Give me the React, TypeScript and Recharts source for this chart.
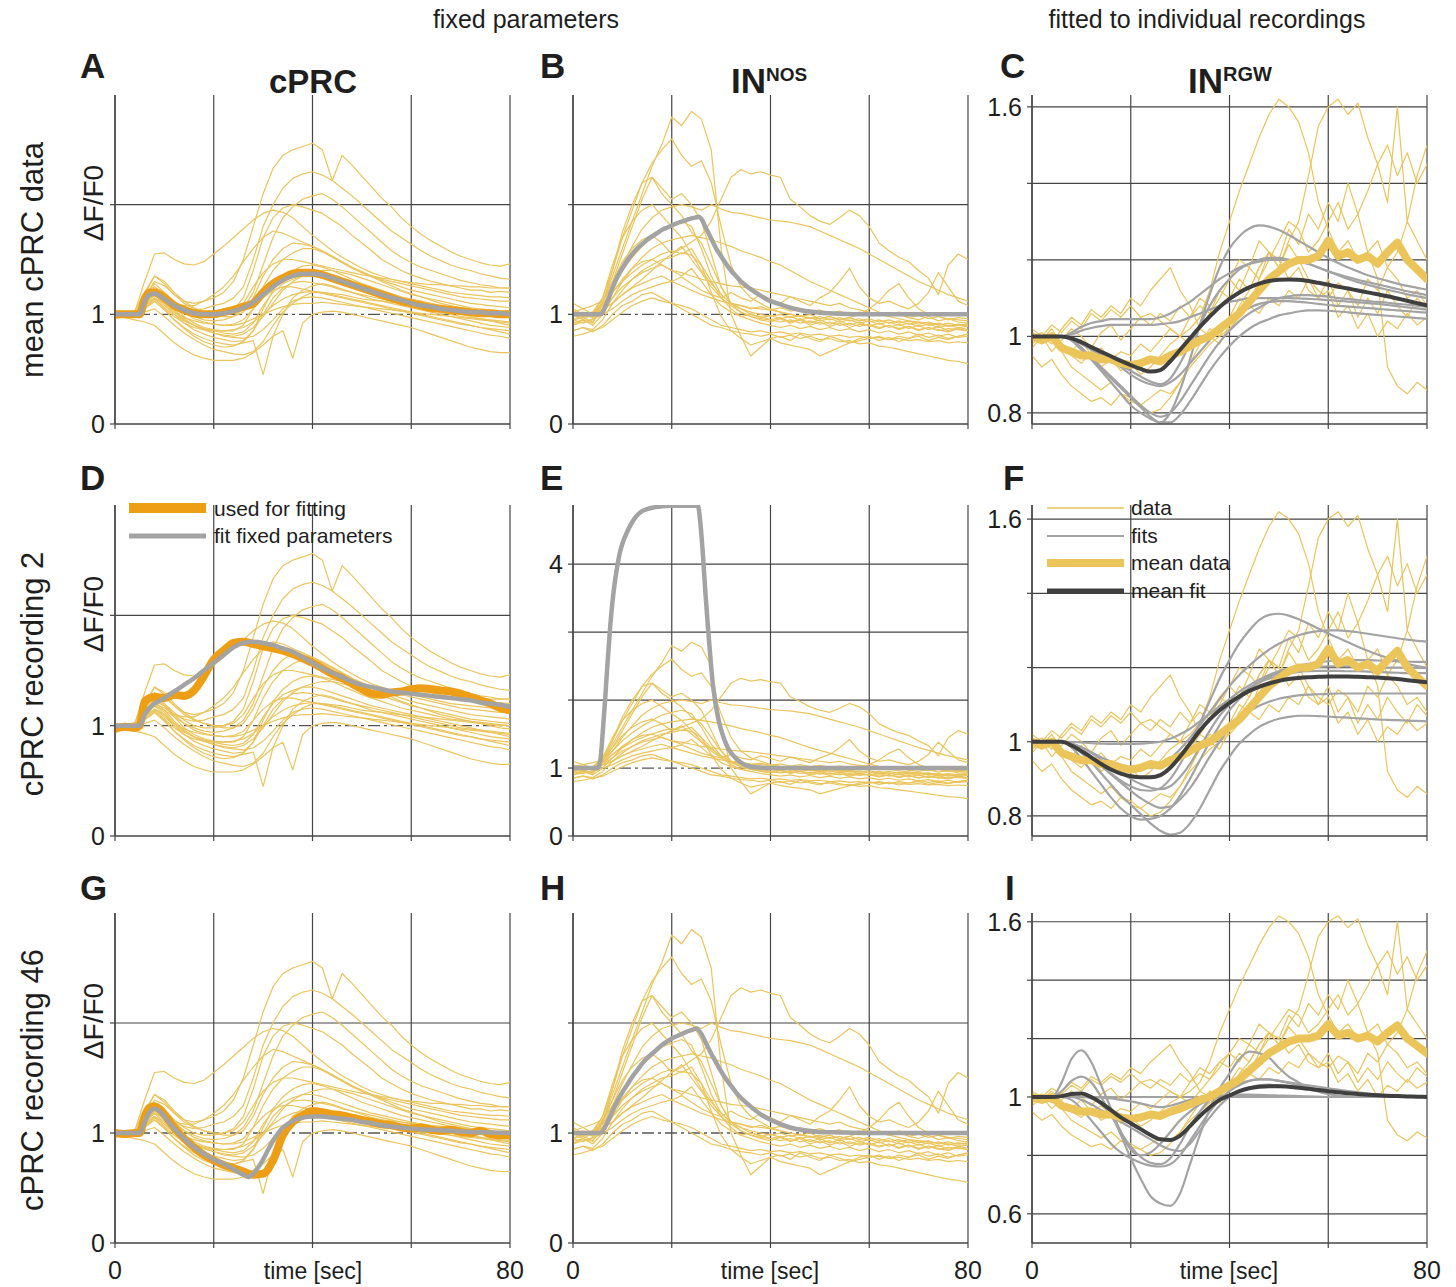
import React from "react";
import { LineChart, Line, XAxis, YAxis, ReferenceLine, CartesianGrid } from "recharts";

const FONT = "'Liberation Sans', Arial, Helvetica, sans-serif";
const GRID = "#454545";
const YELLOW = "#EAC45C";
const MEANY = "#EBC55A";
const ORANGE = "#EE9E14";
const GRAY = "#A3A3A3";
const DARK = "#3f3f3f";

const TIME = [0,2,4,6,8,10,12,14,16,18,20,22,24,26,28,30,32,34,36,38,40,42,44,46,48,50,52,54,56,58,60,62,64,66,68,70,72,74,76,78,80];
const X_TICKS = [0, 20, 40, 60, 80];

// ---------- cPRC recordings (yellow traces, panels A, D, G) ----------
const cprcTraces = [
  [1.00,1.02,0.99,1.15,1.30,1.26,1.18,1.12,1.10,1.12, 1.15,1.20,1.30,1.50,1.80,2.10,2.33,2.45,2.50,2.53, 2.56,2.50,2.22,2.45,2.36,2.26,2.16,2.06,1.98,1.88, 1.80,1.73,1.67,1.62,1.57,1.53,1.50,1.47,1.45,1.44, 1.46],
  [1.01,0.99,1.00,1.12,1.22,1.18,1.10,1.06,1.04,1.05, 1.08,1.10,1.15,1.25,1.50,1.80,2.00,2.15,2.24,2.28, 2.30,2.27,2.22,2.15,2.08,2.00,1.92,1.84,1.76,1.70, 1.64,1.58,1.53,1.49,1.45,1.42,1.40,1.37,1.35,1.33, 1.32],
  [0.98,1.00,1.01,1.10,1.25,1.20,1.12,1.05,1.00,0.98, 0.98,1.00,1.04,1.15,1.40,1.70,1.88,1.97,2.00,1.98, 1.95,1.92,1.86,1.80,1.72,1.65,1.58,1.50,1.45,1.40, 1.36,1.33,1.30,1.28,1.26,1.24,1.22,1.22,1.20,1.21, 1.20],
  [1.02,1.00,0.99,1.08,1.18,1.14,1.08,1.02,0.98,0.95, 0.94,0.95,0.98,1.05,1.20,1.45,1.70,1.88,1.98,2.05, 2.08,2.10,2.05,1.98,1.90,1.82,1.74,1.66,1.58,1.52, 1.47,1.43,1.40,1.37,1.34,1.31,1.29,1.27,1.26,1.24, 1.24],
  [1.00,1.01,1.00,1.10,1.20,1.16,1.10,1.08,1.08,1.12, 1.18,1.25,1.35,1.48,1.60,1.70,1.76,1.74,1.70,1.66, 1.62,1.57,1.52,1.47,1.42,1.38,1.35,1.32,1.30,1.28, 1.26,1.24,1.22,1.20,1.18,1.16,1.15,1.14,1.13,1.12, 1.12],
  [0.99,1.00,1.02,1.30,1.55,1.56,1.50,1.46,1.45,1.48, 1.55,1.62,1.70,1.78,1.86,1.92,1.95,1.93,1.88,1.80, 1.72,1.65,1.58,1.52,1.47,1.42,1.38,1.35,1.32,1.30, 1.28,1.26,1.24,1.22,1.20,1.19,1.18,1.17,1.16,1.16, 1.15],
  [1.00,0.98,1.00,1.12,1.25,1.18,1.08,0.98,0.92,0.88, 0.86,0.85,0.85,0.90,1.05,1.25,1.40,1.50,1.56,1.60, 1.60,1.57,1.53,1.48,1.43,1.38,1.34,1.30,1.26,1.22, 1.19,1.16,1.13,1.10,1.08,1.06,1.04,1.02,1.00,0.98, 0.97],
  [1.01,1.00,0.98,1.10,1.18,1.10,1.00,0.92,0.86,0.82, 0.79,0.77,0.75,0.76,0.85,1.05,1.22,1.33,1.40,1.44, 1.45,1.43,1.40,1.36,1.32,1.28,1.25,1.22,1.19,1.16, 1.14,1.12,1.10,1.08,1.06,1.05,1.04,1.03,1.02,1.01, 1.00],
  [0.97,0.99,1.00,1.08,1.15,1.08,1.00,0.94,0.90,0.87, 0.85,0.83,0.82,0.84,0.92,1.08,1.20,1.28,1.32,1.35, 1.35,1.33,1.30,1.27,1.24,1.21,1.18,1.16,1.14,1.12, 1.10,1.08,1.06,1.04,1.02,1.00,0.98,0.96,0.94,0.92, 0.90],
  [1.00,1.01,0.99,1.05,1.12,1.05,0.95,0.88,0.82,0.78, 0.75,0.73,0.72,0.74,0.76,0.45,0.80,1.00,1.15,1.22, 1.26,1.28,1.26,1.23,1.20,1.17,1.14,1.12,1.10,1.08, 1.06,1.04,1.02,1.00,0.98,0.96,0.94,0.92,0.90,0.89, 0.88],
  [0.96,0.98,1.00,1.02,1.05,0.98,0.90,0.83,0.77,0.72, 0.68,0.66,0.64,0.63,0.66,0.75,0.90,1.02,1.10,1.16, 1.20,1.20,1.18,1.16,1.14,1.12,1.10,1.08,1.06,1.04, 1.02,1.00,0.98,0.96,0.94,0.92,0.90,0.88,0.86,0.84, 0.82],
  [1.00,0.97,0.95,0.93,0.90,0.82,0.74,0.68,0.63,0.60, 0.58,0.58,0.58,0.60,0.65,0.72,0.80,0.85,0.60,0.92, 1.00,1.02,1.03,1.02,1.00,0.98,0.96,0.94,0.92,0.90, 0.88,0.85,0.82,0.79,0.76,0.73,0.70,0.68,0.66,0.65, 0.65],
  [1.02,1.00,1.01,1.10,1.20,1.12,1.02,0.95,0.90,0.86, 0.83,0.80,0.79,0.78,0.80,0.86,0.95,1.05,1.12,1.15, 1.16,1.15,1.13,1.11,1.09,1.07,1.05,1.03,1.01,0.99, 0.97,0.95,0.93,0.91,0.89,0.87,0.85,0.83,0.81,0.80, 0.78],
  [0.99,1.00,1.00,1.08,1.15,1.10,1.02,0.97,0.94,0.92, 0.91,0.90,0.90,0.92,0.96,1.00,1.04,1.07,1.09,1.10, 1.10,1.11,1.10,1.09,1.08,1.07,1.06,1.05,1.04,1.03, 1.02,1.01,1.00,0.99,0.98,0.97,0.96,0.95,0.94,0.93, 0.92],
  [1.00,1.02,1.00,1.18,1.35,1.28,1.18,1.10,1.05,1.02, 1.00,1.00,1.02,1.10,1.25,1.38,1.46,1.50,1.50,1.48, 1.46,1.44,1.42,1.40,1.38,1.36,1.35,1.33,1.32,1.30, 1.29,1.28,1.27,1.27,1.26,1.26,1.25,1.25,1.24,1.24, 1.24],
  [1.01,0.99,0.98,1.06,1.12,1.04,0.95,0.87,0.80,0.75, 0.72,0.70,0.71,0.75,0.85,1.00,1.15,1.24,1.29,1.30, 1.29,1.27,1.25,1.22,1.20,1.18,1.16,1.14,1.12,1.10, 1.08,1.06,1.04,1.02,1.00,0.98,0.97,0.96,0.95,0.94, 0.93],
  [1.00,1.00,1.03,1.20,1.35,1.30,1.20,1.12,1.06,1.02, 1.00,0.98,0.98,1.02,1.15,1.35,1.50,1.60,1.65,1.64, 1.62,1.58,1.53,1.48,1.43,1.39,1.35,1.31,1.28,1.25, 1.22,1.20,1.18,1.16,1.14,1.12,1.10,1.09,1.08,1.07, 1.06],
  [0.98,1.00,0.99,1.06,1.14,1.06,0.98,0.92,0.88,0.86, 0.85,0.85,0.86,0.88,0.93,1.00,1.08,1.14,1.18,1.20, 1.21,1.20,1.19,1.18,1.16,1.14,1.13,1.12,1.11,1.10, 1.09,1.08,1.07,1.06,1.05,1.04,1.03,1.02,1.01,1.00, 1.00],
  [1.00,1.01,1.00,1.12,1.22,1.14,1.04,0.96,0.90,0.86, 0.83,0.81,0.80,0.82,0.88,0.98,1.10,1.22,1.30,1.35, 1.38,1.40,1.40,1.38,1.36,1.33,1.30,1.27,1.24,1.21, 1.18,1.16,1.14,1.12,1.10,1.08,1.06,1.05,1.04,1.03, 1.02],
  [1.02,0.99,1.01,1.14,1.28,1.20,1.10,1.02,0.96,0.93, 0.91,0.90,0.91,0.95,1.05,1.15,1.22,1.25,1.25,1.23, 1.21,1.19,1.17,1.15,1.13,1.11,1.09,1.07,1.05,1.03, 1.01,0.99,0.97,0.95,0.93,0.91,0.90,0.88,0.87,0.86, 0.85],
];

// orange "used for fitting" and gray fits (time, value)
const cprcMeanData = [[0,1.0],[2,1.0],[4,1.0],[5,1.0],[6,1.14],[7,1.2],[8,1.2],[9,1.18],[10,1.15],[12,1.08],[14,1.04],[16,1.01],[18,1.0],[20,1.0],[22,1.02],[24,1.04],[26,1.07],[28,1.1],[30,1.2],[32,1.28],[34,1.33],[36,1.37],[38,1.38],[40,1.38],[42,1.36],[44,1.33],[46,1.3],[48,1.27],[50,1.24],[52,1.21],[54,1.18],[56,1.15],[58,1.12],[60,1.1],[62,1.08],[64,1.06],[66,1.05],[68,1.04],[70,1.03],[72,1.02],[74,1.01],[76,1.01],[78,1.0],[80,1.0]];
const cprcFitA = [[0,1],[5,1],[6,1.12],[7,1.18],[8,1.19],[9,1.17],[10,1.14],[12,1.08],[14,1.04],[16,1.01],[18,1.0],[20,1.0],[22,1.01],[24,1.03],[26,1.06],[28,1.11],[30,1.18],[32,1.25],[34,1.31],[36,1.35],[38,1.37],[40,1.37],[42,1.36],[44,1.33],[46,1.3],[48,1.27],[50,1.24],[52,1.21],[54,1.18],[56,1.15],[58,1.13],[60,1.1],[62,1.08],[64,1.07],[66,1.05],[68,1.04],[70,1.03],[72,1.02],[74,1.02],[76,1.01],[78,1.01],[80,1.0]];
const cprcRec2 = [[0,0.97],[2,0.99],[4,0.98],[5,1.0],[6,1.22],[8,1.26],[10,1.25],[12,1.28],[14,1.27],[16,1.32],[18,1.45],[20,1.6],[22,1.68],[24,1.75],[26,1.76],[28,1.74],[30,1.72],[32,1.7],[34,1.68],[36,1.65],[38,1.61],[40,1.57],[42,1.52],[44,1.47],[46,1.43],[48,1.38],[50,1.33],[52,1.29],[54,1.28],[56,1.3],[58,1.31],[60,1.33],[62,1.34],[64,1.33],[66,1.32],[68,1.31],[70,1.29],[72,1.26],[74,1.23],[76,1.2],[78,1.16],[80,1.14]];
const cprcFitD = [[0,1],[5,1],[6,1.1],[7,1.16],[8,1.2],[10,1.25],[12,1.31],[14,1.37],[16,1.43],[18,1.5],[20,1.57],[22,1.64],[24,1.71],[26,1.75],[28,1.76],[30,1.75],[32,1.73],[34,1.7],[36,1.67],[38,1.62],[40,1.57],[42,1.52],[44,1.48],[46,1.44],[48,1.4],[50,1.37],[52,1.35],[54,1.33],[56,1.31],[58,1.3],[60,1.29],[62,1.28],[64,1.27],[66,1.26],[68,1.25],[70,1.24],[72,1.23],[74,1.21],[76,1.2],[78,1.19],[80,1.17]];
const cprcRec46 = [[0,1.0],[2,0.99],[4,1.0],[5,1.0],[6,1.15],[7,1.23],[8,1.24],[9,1.22],[10,1.17],[12,1.05],[14,0.95],[16,0.87],[18,0.8],[20,0.75],[22,0.71],[24,0.68],[26,0.65],[28,0.62],[30,0.63],[32,0.75],[34,0.98],[36,1.1],[38,1.16],[40,1.2],[42,1.19],[44,1.17],[46,1.16],[48,1.14],[50,1.12],[52,1.1],[54,1.08],[56,1.07],[58,1.05],[60,1.04],[62,1.05],[64,1.03],[66,1.02],[68,1.03],[70,1.01],[72,1.0],[74,1.02],[76,0.99],[78,0.98],[80,0.98]];
const cprcFitG = [[0,1],[5,1],[6,1.1],[7,1.19],[8,1.22],[9,1.2],[10,1.15],[12,1.04],[14,0.95],[16,0.87],[18,0.81],[20,0.76],[22,0.72],[24,0.67],[26,0.62],[27,0.6],[28,0.63],[30,0.76],[32,0.93],[34,1.05],[36,1.11],[38,1.14],[40,1.15],[42,1.15],[44,1.14],[46,1.13],[48,1.12],[50,1.1],[52,1.09],[54,1.07],[56,1.06],[58,1.05],[60,1.04],[64,1.03],[68,1.02],[72,1.01],[76,1.005],[80,1.0]];

// ---------- IN-NOS recordings (panels B, E, H) ----------
const nosTraces = [
  [0.95,1.00,0.98,1.10,1.35,1.60,1.85,2.10,2.35,2.55, 2.80,2.72,2.85,2.78,2.50,1.60,1.00,0.80,0.62,0.70, 0.78,0.80,0.76,0.82,0.78,0.75,0.80,0.77,0.74,0.78, 0.80,0.76,0.79,0.75,0.78,0.80,0.76,0.79,0.77,0.80, 0.82],
  [1.02,0.98,1.00,1.15,1.40,1.70,1.95,2.20,2.38,2.50, 2.60,2.45,2.35,2.40,2.20,1.80,1.45,1.25,1.15,1.10, 1.05,1.02,1.00,0.98,1.00,0.96,0.98,0.95,0.97,0.94, 0.96,0.93,0.95,0.92,0.94,0.91,0.93,0.90,0.92,0.90, 0.91],
  [0.90,0.95,0.92,1.10,1.40,1.75,2.00,2.20,2.25,2.10, 2.00,1.90,1.75,1.65,1.45,1.25,1.10,1.05,1.00,0.98, 0.95,0.97,0.93,0.96,0.92,0.95,0.91,0.94,0.90,0.93, 0.89,0.92,0.88,0.91,0.87,0.90,0.86,0.89,0.85,0.88, 0.86],
  [1.00,0.98,1.02,1.05,1.10,1.18,1.25,1.32,1.40,1.48, 1.55,1.60,1.66,1.72,1.85,2.05,2.25,2.32,2.28,2.30, 2.27,2.25,2.05,1.98,1.90,1.85,1.82,1.88,1.95,1.90, 1.80,1.65,1.58,1.52,1.48,1.40,1.33,1.18,1.45,1.55, 1.50],
  [1.05,1.00,0.97,1.08,1.25,1.45,1.62,1.78,1.88,1.95, 1.98,2.00,1.98,1.95,2.00,1.96,1.93,1.92,1.90,1.88, 1.86,1.85,1.84,1.82,1.80,1.76,1.72,1.68,1.64,1.60, 1.55,1.50,1.45,1.40,1.35,1.30,1.26,1.22,1.18,1.15, 1.12],
  [0.92,0.95,0.90,1.00,1.15,1.30,1.42,1.52,1.60,1.65, 1.68,1.70,1.72,1.70,1.68,1.65,1.62,1.58,1.55,1.52, 1.48,1.45,1.40,1.35,1.30,1.26,1.22,1.18,1.14,1.10, 1.06,1.02,0.98,0.96,0.94,0.93,0.92,0.91,0.90,0.90, 0.90],
  [1.00,1.02,0.99,1.12,1.30,1.48,1.60,1.68,1.72,1.65, 1.55,1.62,1.50,1.38,1.25,1.15,1.08,1.02,0.98,0.95, 0.93,0.96,0.92,0.95,0.90,0.93,0.89,0.92,0.88,0.91, 0.90,0.87,0.90,0.86,0.89,0.85,0.88,0.86,0.84,0.87, 0.85],
  [0.85,0.88,0.86,0.95,1.10,1.22,1.32,1.40,1.45,1.50, 1.52,1.56,1.54,1.45,1.30,1.15,1.05,0.98,0.95,0.92, 0.90,0.88,0.90,0.87,0.89,0.86,0.88,0.85,0.87,0.84, 0.86,0.83,0.85,0.82,0.84,0.81,0.83,0.80,0.82,0.79, 0.80],
  [0.95,0.92,0.96,1.05,1.15,1.25,1.32,1.38,1.42,1.45, 1.40,1.35,1.42,1.30,1.18,1.08,1.02,0.98,1.00,0.97, 0.99,0.96,0.98,0.95,0.97,0.94,0.96,0.93,0.95,0.92, 0.94,0.91,0.93,0.90,0.92,0.89,0.91,0.88,0.90,0.88, 0.89],
  [1.00,0.97,1.00,1.04,1.10,1.18,1.24,1.28,1.32,1.35, 1.30,1.34,1.28,1.22,1.18,1.15,1.20,1.15,1.12,1.18, 1.14,1.10,1.16,1.12,1.08,1.15,1.20,1.30,1.42,1.25, 1.15,1.10,1.12,1.08,1.05,1.10,1.20,1.38,1.25,1.12, 1.08],
  [0.85,0.88,0.84,0.90,1.00,1.08,1.12,1.18,1.20,1.15, 1.10,1.05,1.00,0.95,0.90,0.88,0.85,0.83,0.82,0.80, 0.82,0.79,0.81,0.78,0.80,0.77,0.78,0.75,0.76,0.73, 0.74,0.71,0.70,0.68,0.66,0.64,0.62,0.60,0.58,0.57, 0.55],
  [1.02,1.05,1.00,1.08,1.20,1.30,1.38,1.45,1.50,1.55, 1.58,1.55,1.60,1.45,1.20,0.98,0.85,0.78,0.72,0.75, 0.78,0.74,0.72,0.70,0.68,0.62,0.66,0.70,0.74,0.76, 0.78,0.80,0.77,0.80,0.78,0.82,0.79,0.81,0.78,0.80, 0.82],
  [0.98,1.00,1.02,1.15,1.45,1.70,1.85,1.95,2.00,1.90, 1.80,1.70,1.55,1.40,1.28,1.18,1.10,1.05,1.02,1.00, 0.98,1.00,0.97,0.99,0.96,0.98,0.95,0.97,0.94,0.96, 0.93,0.95,0.92,0.94,0.91,0.93,0.90,0.92,0.89,0.91, 0.90],
  [0.90,0.93,0.95,1.00,1.05,1.12,1.18,1.22,1.25,1.28, 1.30,1.26,1.22,1.18,1.15,1.12,1.10,1.08,1.06,1.05, 1.04,1.02,1.00,0.98,0.97,0.96,0.98,0.95,0.97,1.00, 1.05,1.12,1.22,1.28,1.15,1.05,1.00,0.98,0.96,0.95, 0.94],
  [1.10,1.05,1.08,1.12,1.25,1.40,1.52,1.62,1.70,1.78, 1.82,1.85,1.80,1.60,1.35,1.18,1.10,1.08,1.05,1.07, 1.04,1.06,1.03,1.05,1.02,1.04,1.01,1.03,1.00,1.02, 0.99,1.01,0.98,1.00,0.97,0.99,0.96,0.98,0.95,0.97, 0.96],
  [0.80,0.82,0.85,0.88,0.95,1.02,1.08,1.12,1.15,1.12, 1.10,1.08,1.05,1.00,0.95,0.90,0.88,0.86,0.84,0.85, 0.83,0.84,0.82,0.83,0.81,0.82,0.80,0.81,0.79,0.80, 0.78,0.79,0.77,0.78,0.76,0.77,0.75,0.76,0.74,0.75, 0.74],
  [1.00,0.95,1.00,1.10,1.30,1.55,1.80,2.05,2.25,2.15, 2.05,2.10,2.00,1.85,1.55,1.25,1.10,1.02,0.98,0.96, 0.95,0.93,0.95,0.92,0.94,0.91,0.93,0.90,0.92,0.89, 0.91,0.88,0.90,0.87,0.89,0.86,0.88,0.85,0.87,0.86, 0.85],
  [0.95,0.97,0.93,1.05,1.20,1.32,1.42,1.48,1.50,1.45, 1.40,1.38,1.35,1.32,1.30,1.28,1.26,1.25,1.24,1.22, 1.20,1.18,1.16,1.14,1.12,1.10,1.08,1.10,1.06,1.04, 1.02,1.00,0.98,1.02,0.97,0.95,0.98,0.94,0.96,0.93, 0.92],
];
const nosFitB = [[0,1],[5.5,1],[7,1.12],[8,1.24],[9,1.34],[10,1.42],[11,1.49],[12,1.55],[13,1.6],[14,1.64],[15,1.68],[16,1.71],[17,1.74],[18,1.77],[19,1.79],[20,1.81],[21,1.83],[22,1.845],[23,1.86],[24,1.875],[25,1.885],[25.5,1.89],[26,1.87],[27,1.78],[28,1.69],[29,1.6],[30,1.53],[31,1.46],[32,1.4],[33,1.35],[34,1.3],[36,1.23],[38,1.17],[40,1.12],[42,1.09],[44,1.06],[46,1.04],[48,1.025],[50,1.015],[54,1.005],[60,1],[80,1]];
const nosFitE = [[0,1],[5,1],[5.5,1.1],[6,1.5],[6.5,2.0],[7,2.55],[7.5,3.05],[8,3.45],[8.5,3.75],[9,3.98],[9.5,4.17],[10,4.3],[11,4.48],[12,4.62],[13,4.72],[14,4.78],[15,4.81],[16,4.83],[18,4.85],[20,4.86],[25.3,4.86],[25.8,4.6],[26.3,4.15],[26.8,3.6],[27.3,3.1],[27.8,2.65],[28.3,2.25],[28.8,1.98],[29.5,1.7],[30.5,1.45],[31.5,1.28],[32.5,1.18],[34,1.08],[35.5,1.03],[37,1.01],[40,1.0],[80,1.0]];
const nosFitH = [[0,1],[5.5,1],[7,1.1],[8,1.2],[9,1.29],[10,1.37],[11,1.44],[12,1.51],[13,1.57],[14,1.63],[15,1.68],[16,1.72],[17,1.76],[18,1.8],[19,1.83],[20,1.86],[21,1.88],[22,1.9],[23,1.92],[24,1.935],[25,1.95],[26,1.9],[27,1.81],[28,1.72],[29,1.64],[30,1.56],[31,1.49],[32,1.43],[33,1.37],[34,1.32],[36,1.24],[38,1.17],[40,1.12],[42,1.08],[44,1.05],[46,1.03],[48,1.02],[50,1.01],[54,1.005],[60,1],[80,1]];

// ---------- IN-RGW recordings (panels C, F, I) ----------
const rgwTraces = [
  [1.00,0.98,1.01,0.97,0.95,0.93,0.96,0.92,0.94,0.91, 0.93,0.90,0.92,0.95,0.98,1.00,1.02,1.05,1.12,1.22, 1.30,1.38,1.45,1.52,1.58,1.62,1.60,1.56,1.48,1.35, 1.28,1.22,1.25,1.20,1.22,1.15,0.92,0.87,0.85,0.88, 0.86],
  [0.98,1.00,0.96,0.99,1.02,1.00,0.97,1.01,1.03,0.99, 1.02,1.05,1.03,1.06,1.04,1.08,1.05,1.10,1.08,1.12, 1.15,1.12,1.18,1.15,1.22,1.18,1.25,1.30,1.42,1.55, 1.60,1.62,1.58,1.61,1.52,1.45,1.50,1.42,1.48,1.40, 1.45],
  [1.01,0.99,1.02,0.98,0.96,0.99,0.95,0.97,0.94,0.96, 0.95,0.98,0.96,0.99,1.02,1.00,1.05,1.08,1.06,1.12, 1.10,1.15,1.12,1.18,1.22,1.20,1.28,1.24,1.32,1.28, 1.35,1.30,1.40,1.32,1.38,1.45,1.35,1.60,1.30,1.42, 1.50],
  [0.97,1.00,0.98,1.02,1.05,1.03,1.07,1.05,1.08,1.06, 1.10,1.08,1.12,1.15,1.18,1.12,1.08,1.02,1.00,0.98, 1.03,1.08,1.12,1.18,1.22,1.20,1.15,1.18,1.12,1.10, 1.15,1.08,1.12,1.05,1.10,1.06,1.12,1.08,1.05,1.10, 1.07],
  [1.02,1.00,1.03,1.01,1.04,1.02,1.06,1.04,1.07,1.05, 1.08,1.05,1.06,1.04,1.02,1.00,0.98,1.02,1.06,1.10, 1.15,1.20,1.18,1.25,1.22,1.18,1.24,1.20,1.15,1.10, 1.12,1.05,1.08,1.02,1.06,1.00,1.04,1.02,1.06,1.03, 1.05],
  [0.95,0.92,0.94,0.90,0.87,0.85,0.83,0.84,0.82,0.85, 0.83,0.82,0.84,0.86,0.85,0.88,0.92,0.95,0.98,1.00, 1.02,1.05,1.08,1.06,1.10,1.08,1.12,1.10,1.15,1.12, 1.10,1.14,1.12,1.08,1.15,1.12,1.18,1.15,1.10,1.12, 1.08],
  [1.00,1.01,0.99,0.96,0.92,0.90,0.88,0.86,0.88,0.85, 0.84,0.82,0.80,0.81,0.84,0.88,0.93,0.98,1.02,1.00, 1.05,1.10,1.08,1.15,1.20,1.25,1.30,1.28,1.22,1.25, 1.30,1.35,1.28,1.32,1.22,1.25,1.18,1.22,1.30,1.25, 1.20],
];
const rgwMeanData = [1.0,0.99,1.0,0.97,0.96,0.95,0.95,0.94,0.94,0.93, 0.925,0.93,0.94,0.935,0.95,0.96,0.975,0.99,1.0,1.02, 1.04,1.06,1.09,1.12,1.15,1.17,1.19,1.2,1.2,1.21, 1.25,1.21,1.22,1.2,1.21,1.19,1.22,1.245,1.2,1.175, 1.15];

const rgwMeanFitC = [1,1,1,1,0.995,0.985,0.972,0.96,0.948,0.936, 0.925,0.915,0.908,0.912,0.935,0.965,0.995,1.025,1.052,1.077, 1.098,1.115,1.128,1.138,1.145,1.148,1.149,1.148,1.145,1.14, 1.135,1.13,1.125,1.12,1.115,1.11,1.105,1.099,1.093,1.087, 1.081];
const rgwFitsC = [
  [1,1,1,1,0.99,0.97,0.94,0.91,0.88,0.85, 0.82,0.80,0.785,0.775,0.80,0.86,0.94,1.03,1.11,1.18, 1.23,1.262,1.282,1.29,1.287,1.278,1.265,1.25,1.235,1.22, 1.205,1.192,1.18,1.17,1.16,1.152,1.145,1.138,1.132,1.127, 1.122],
  [1,1,1,1,0.995,0.985,0.97,0.955,0.94,0.925, 0.91,0.895,0.882,0.875,0.89,0.93,0.98,1.03,1.08,1.12, 1.15,1.175,1.19,1.20,1.205,1.205,1.20,1.195,1.19,1.18, 1.17,1.16,1.15,1.142,1.135,1.128,1.122,1.116,1.11,1.105, 1.10],
  [1,1,1,1,1.01,1.025,1.035,1.04,1.045,1.045, 1.045,1.045,1.045,1.05,1.06,1.075,1.09,1.11,1.13,1.15, 1.165,1.18,1.19,1.195,1.20,1.20,1.20,1.195,1.19,1.18, 1.17,1.162,1.155,1.148,1.142,1.136,1.13,1.124,1.118,1.113, 1.108],
  [1,1,1,1,1.005,1.015,1.022,1.027,1.03,1.03, 1.03,1.03,1.03,1.032,1.035,1.04,1.05,1.06,1.07,1.08, 1.09,1.095,1.10,1.10,1.10,1.10,1.10,1.099,1.098,1.097, 1.095,1.093,1.091,1.089,1.087,1.085,1.082,1.079,1.076,1.073, 1.07],
  [1,1,1,1,0.995,0.98,0.965,0.95,0.935,0.92, 0.90,0.885,0.875,0.87,0.88,0.90,0.93,0.96,0.99,1.02, 1.04,1.06,1.075,1.085,1.09,1.092,1.092,1.09,1.088,1.085, 1.082,1.08,1.078,1.076,1.074,1.072,1.07,1.068,1.066,1.064, 1.062],
  [1,1,1,1,0.99,0.97,0.945,0.92,0.895,0.87, 0.845,0.82,0.80,0.79,0.80,0.83,0.87,0.91,0.95,0.985, 1.015,1.04,1.06,1.075,1.09,1.10,1.105,1.108,1.108,1.106, 1.104,1.10,1.098,1.095,1.092,1.09,1.088,1.085,1.083,1.08, 1.078],
  [1,1,1,1,0.99,0.965,0.94,0.915,0.89,0.865, 0.84,0.815,0.79,0.775,0.775,0.795,0.83,0.87,0.91,0.945, 0.975,1.0,1.02,1.035,1.045,1.055,1.06,1.065,1.068,1.068, 1.067,1.065,1.063,1.06,1.058,1.056,1.054,1.052,1.05,1.048, 1.046],
];
const rgwMeanFitF = [1,1,1,1,0.99,0.975,0.958,0.94,0.925,0.914, 0.907,0.904,0.904,0.91,0.93,0.96,0.995,1.03,1.06,1.085, 1.105,1.122,1.137,1.148,1.157,1.164,1.169,1.172,1.174,1.175, 1.176,1.176,1.176,1.175,1.174,1.173,1.171,1.169,1.166,1.163, 1.16];
const rgwFitsF = [
  [1,1,1,1,0.99,0.975,0.955,0.935,0.915,0.895, 0.88,0.87,0.868,0.875,0.9,0.94,0.99,1.05,1.11,1.17, 1.22,1.265,1.3,1.328,1.342,1.345,1.34,1.33,1.318,1.305, 1.292,1.28,1.268,1.256,1.245,1.235,1.226,1.218,1.21,1.204, 1.2],
  [1,1,1,1,0.995,0.985,0.972,0.958,0.946,0.936, 0.93,0.928,0.93,0.94,0.955,0.98,1.01,1.045,1.08,1.115, 1.15,1.18,1.205,1.228,1.248,1.264,1.277,1.287,1.294,1.298, 1.3,1.3,1.298,1.295,1.291,1.287,1.283,1.279,1.275,1.272, 1.27],
  [1,1,1,1,1,0.998,0.996,0.995,0.994,0.994, 0.994,0.995,0.997,1.0,1.008,1.02,1.035,1.055,1.075,1.095, 1.115,1.135,1.152,1.167,1.18,1.19,1.198,1.205,1.21,1.214, 1.217,1.219,1.22,1.22,1.22,1.219,1.218,1.217,1.216,1.215, 1.215],
  [1,1,1,1,0.985,0.955,0.92,0.885,0.85,0.82, 0.80,0.79,0.792,0.80,0.82,0.855,0.9,0.95,1.0,1.045, 1.085,1.115,1.14,1.16,1.175,1.185,1.192,1.197,1.2,1.202, 1.203,1.203,1.203,1.202,1.202,1.201,1.2,1.2,1.199,1.199, 1.198],
  [1,1,1,1,0.99,0.97,0.945,0.915,0.885,0.855, 0.83,0.805,0.78,0.76,0.75,0.755,0.78,0.82,0.87,0.92, 0.96,0.995,1.02,1.04,1.053,1.062,1.067,1.07,1.07,1.069, 1.068,1.066,1.065,1.063,1.062,1.06,1.059,1.058,1.057,1.056, 1.055],
  [1,1,1,1,0.99,0.975,0.955,0.935,0.912,0.89, 0.868,0.848,0.832,0.822,0.825,0.845,0.875,0.915,0.96,1.0, 1.035,1.062,1.082,1.097,1.108,1.116,1.121,1.125,1.127,1.128, 1.129,1.13,1.13,1.13,1.13,1.13,1.13,1.13,1.13,1.13, 1.13],
  [1,1,1,1,0.995,0.985,0.97,0.952,0.934,0.916, 0.9,0.886,0.876,0.872,0.88,0.905,0.94,0.985,1.03,1.07, 1.1,1.125,1.145,1.16,1.17,1.178,1.184,1.188,1.19,1.191, 1.191,1.191,1.19,1.19,1.189,1.188,1.187,1.186,1.185,1.185, 1.185],
];
const rgwMeanFitI = [1,1,1,1.003,1.01,1.012,1.0,0.98,0.955,0.93, 0.91,0.89,0.87,0.855,0.853,0.868,0.9,0.935,0.965,0.99, 1.005,1.02,1.03,1.035,1.037,1.037,1.035,1.032,1.028,1.024, 1.02,1.016,1.013,1.01,1.008,1.006,1.004,1.003,1.002,1.001, 1.0];
const rgwFitsI = [
  [1,1,1,1.05,1.13,1.16,1.12,1.04,0.96,0.88, 0.82,0.80,0.81,0.84,0.88,0.92,0.95,0.975,0.99,1.0, 1.005,1.008,1.008,1.007,1.006,1.005,1.004,1.003,1.002,1.001, 1,1,1,1,1,1,1,1,1,1, 1],
  [1,1,1,1,1,1,0.995,0.975,0.94,0.87, 0.79,0.72,0.66,0.635,0.627,0.67,0.77,0.87,0.96,1.03, 1.08,1.13,1.155,1.15,1.135,1.10,1.07,1.05,1.03,1.018, 1.01,1.005,1.002,1,1,1,1,1,1,1, 1],
  [1,1,1,1.02,1.055,1.07,1.05,1.0,0.94,0.88, 0.83,0.795,0.775,0.77,0.79,0.84,0.90,0.95,0.99,1.015, 1.03,1.045,1.055,1.06,1.06,1.055,1.05,1.045,1.04,1.035, 1.03,1.025,1.02,1.016,1.012,1.009,1.006,1.004,1.002,1.001, 1.0],
  [1,1,1,1,1,1,1,0.998,0.995,0.99, 0.985,0.978,0.97,0.965,0.97,0.98,0.99,1.0,1.003,1.005, 1.005,1.005,1.005,1.005,1.004,1.003,1.002,1.001,1,1, 1,1,1,1,1,1,1,1,1,1, 1],
  [1,1,1,1,0.99,0.96,0.92,0.88,0.84,0.81, 0.79,0.775,0.765,0.762,0.77,0.80,0.85,0.90,0.95,0.99, 1.02,1.04,1.055,1.06,1.06,1.055,1.048,1.04,1.033,1.027, 1.022,1.018,1.014,1.011,1.008,1.006,1.004,1.003,1.002,1.001, 1.0],
  [1,1,1,1,1,0.99,0.975,0.955,0.935,0.915, 0.895,0.875,0.855,0.835,0.82,0.815,0.84,0.885,0.93,0.97, 1.0,1.02,1.032,1.04,1.042,1.04,1.036,1.032,1.028,1.024, 1.02,1.016,1.013,1.01,1.008,1.006,1.004,1.003,1.002,1.001, 1.0],
];

// ---------- helpers ----------
type Pt = { t: number; v: number };
type S = { id: string; data: Pt[]; color: string; width: number; smooth?: boolean };
const onGrid = (vals: number[]): Pt[] => vals.map((v, i) => ({ t: TIME[i], v }));
const fromPairs = (p: number[][]): Pt[] => p.map(([t, v]) => ({ t, v }));

const yellowSet = (arr: number[][], pre: string): S[] =>
  arr.map((tr, i) => ({ id: `${pre}${i}`, data: onGrid(tr), color: YELLOW, width: 1.2 }));
const graySet = (arr: number[][], pre: string): S[] =>
  arr.map((tr, i) => ({ id: `${pre}${i}`, data: onGrid(tr), color: GRAY, width: 2.2, smooth: true }));

type PanelProps = {
  left: number; top: number; h: number;
  domain: [number, number]; ticks: number[]; labels: number[]; gridY: number[];
  dashedOne: boolean; xLabels: boolean; series: S[];
};

function Panel({ left, top, h, domain, ticks, labels, gridY, dashedOne, xLabels, series }: PanelProps) {
  const ML = 70, MT = 5, MR = 24, XH = 45, W = 395;
  const yTick = (p: any) => {
    const v = p.payload.value;
    if (!labels.includes(v)) return <g />;
    return (
      <text x={p.x} y={p.y} dy="0.36em" textAnchor="end" fontSize={25} fontFamily={FONT} fill="#1e1e1e">
        {String(v)}
      </text>
    );
  };
  const xTick = (p: any) => {
    const v = p.payload.value;
    if (!xLabels || (v !== 0 && v !== 80)) return <g />;
    return (
      <text x={p.x} y={p.y} dy={31} textAnchor="middle" fontSize={25} fontFamily={FONT} fill="#1e1e1e">
        {String(v)}
      </text>
    );
  };
  return (
    <div style={{ position: "absolute", left: left - ML, top: top - MT }}>
      <LineChart width={ML + W + MR} height={MT + h + XH} margin={{ top: MT, right: MR, bottom: 0, left: 0 }}>
        <CartesianGrid horizontal={false} vertical={true} stroke={GRID} strokeWidth={1.2} />
        <XAxis dataKey="t" type="number" domain={[0, 80]} ticks={X_TICKS} interval={0} height={XH}
          allowDataOverflow tickSize={5} tickMargin={0}
          axisLine={{ stroke: GRID, strokeWidth: 1.4 }} tickLine={{ stroke: GRID, strokeWidth: 1.2 }} tick={xTick} />
        <YAxis type="number" domain={domain} ticks={ticks} interval={0} width={ML}
          allowDataOverflow tickSize={5} tickMargin={5}
          axisLine={{ stroke: GRID, strokeWidth: 1.4 }} tickLine={{ stroke: GRID, strokeWidth: 1.2 }} tick={yTick} />
        {gridY.map((g) => (
          <ReferenceLine key={`g${g}`} y={g} stroke={GRID} strokeWidth={1.2} />
        ))}
        {dashedOne && <ReferenceLine y={1} stroke="#555" strokeWidth={1.3} strokeDasharray="12 4 3 4" />}
        {series.map((s) => (
          <Line key={s.id} data={s.data} dataKey="v" type={s.smooth ? "monotone" : "linear"}
            stroke={s.color} strokeWidth={s.width} dot={false} activeDot={false}
            isAnimationActive={false} strokeLinejoin="round" strokeLinecap="round" />
        ))}
      </LineChart>
    </div>
  );
}

export default function App() {
  const c1 = yellowSet(cprcTraces, "c1_");
  const c2 = yellowSet(nosTraces, "c2_");
  const c3 = yellowSet(rgwTraces, "c3_");
  const thickOrange = (d: number[][], id: string): S => ({ id, data: fromPairs(d), color: ORANGE, width: 8, smooth: true });
  const grayFit = (d: number[][], id: string): S => ({ id, data: fromPairs(d), color: GRAY, width: 4.5, smooth: true });
  const meanData: S = { id: "md", data: onGrid(rgwMeanData), color: MEANY, width: 8 };
  const meanFit = (d: number[], id: string): S => ({ id, data: onGrid(d), color: DARK, width: 4, smooth: true });

  const col12 = { domain: [0, 3] as [number, number], ticks: [0, 1, 2], labels: [0, 1], gridY: [2], dashedOne: true };
  const rgwTicks = [0.8, 1, 1.2, 1.4, 1.6];

  const txt = { fontFamily: FONT, fill: "#1e1e1e" } as const;

  return (
    <div style={{ position: "absolute", left: 0, top: 0, width: 1456, height: 1287, background: "#fff", overflow: "hidden" }}>
      {/* row 1 */}
      <Panel left={115} top={95} h={329} {...col12} xLabels={false}
        series={[...c1, thickOrange(cprcMeanData, "om"), grayFit(cprcFitA, "fa")]} />
      <Panel left={573} top={95} h={329} {...col12} xLabels={false}
        series={[...c2, grayFit(nosFitB, "fb")]} />
      <Panel left={1032} top={95} h={329} domain={[0.771, 1.631]} ticks={rgwTicks} labels={[0.8, 1, 1.6]}
        gridY={rgwTicks} dashedOne={false} xLabels={false}
        series={[...c3, ...graySet(rgwFitsC, "gc"), meanData, meanFit(rgwMeanFitC, "mfc")]} />
      {/* row 2 */}
      <Panel left={115} top={505} h={331} {...col12} xLabels={false}
        series={[...c1, thickOrange(cprcRec2, "o2"), grayFit(cprcFitD, "fd")]} />
      <Panel left={573} top={505} h={331} domain={[0, 4.87]} ticks={[0, 1, 2, 3, 4]} labels={[0, 1, 4]}
        gridY={[2, 3, 4]} dashedOne={true} xLabels={false}
        series={[...c2, grayFit(nosFitE, "fe")]} />
      <Panel left={1032} top={505} h={331} domain={[0.746, 1.638]} ticks={rgwTicks} labels={[0.8, 1, 1.6]}
        gridY={rgwTicks} dashedOne={false} xLabels={false}
        series={[...c3, ...graySet(rgwFitsF, "gf"), meanData, meanFit(rgwMeanFitF, "mff")]} />
      {/* row 3 */}
      <Panel left={115} top={913} h={330} {...col12} xLabels={true}
        series={[...c1, thickOrange(cprcRec46, "o46"), grayFit(cprcFitG, "fg")]} />
      <Panel left={573} top={913} h={330} {...col12} xLabels={true}
        series={[...c2, grayFit(nosFitH, "fh")]} />
      <Panel left={1032} top={913} h={330} domain={[0.5, 1.63]} ticks={[0.6, 0.8, 1, 1.2, 1.4, 1.6]} labels={[0.6, 1, 1.6]}
        gridY={[0.6, 0.8, 1, 1.2, 1.4, 1.6]} dashedOne={false} xLabels={true}
        series={[...c3, ...graySet(rgwFitsI, "gi"), meanData, meanFit(rgwMeanFitI, "mfi")]} />

      {/* text overlay */}
      <svg width={1456} height={1287} style={{ position: "absolute", left: 0, top: 0, pointerEvents: "none" }}>
        <text x={526} y={28} textAnchor="middle" fontSize={25} {...txt}>fixed parameters</text>
        <text x={1207} y={28} textAnchor="middle" fontSize={25} {...txt}>fitted to individual recordings</text>

        {[["A", 80, 78], ["B", 540, 78], ["C", 1000, 78], ["D", 80, 490], ["E", 540, 490], ["F", 1003, 490], ["G", 80, 900], ["H", 540, 900], ["I", 1005, 900]].map(([l, x, y]) => (
          <text key={l as string} x={x as number} y={y as number} fontSize={35} fontWeight="bold" {...txt}>{l}</text>
        ))}

        <text x={313} y={93} textAnchor="middle" fontSize={33} fontWeight="bold" {...txt}>cPRC</text>
        <text x={731} y={93} fontSize={35} fontWeight="bold" {...txt}>IN<tspan fontSize={19} dy={-12}>NOS</tspan></text>
        <text x={1188} y={93} fontSize={35} fontWeight="bold" {...txt}>IN<tspan fontSize={20} dy={-12}>RGW</tspan></text>

        <text transform="translate(43,260) rotate(-90)" textAnchor="middle" fontSize={31} {...txt}>mean cPRC data</text>
        <text transform="translate(43,674) rotate(-90)" textAnchor="middle" fontSize={31} {...txt}>cPRC recording 2</text>
        <text transform="translate(43,1080) rotate(-90)" textAnchor="middle" fontSize={31} {...txt}>cPRC recording 46</text>

        {[203, 614, 1021].map((cy) => (
          <text key={cy} transform={`translate(103,${cy}) rotate(-90)`} textAnchor="middle" fontSize={28} {...txt}>{"\u0394F/F0"}</text>
        ))}

        {/* legend D */}
        <line x1={129} y1={508} x2={206} y2={508} stroke={ORANGE} strokeWidth={10} />
        <text x={214} y={516} fontSize={21} {...txt}>used for fitting</text>
        <line x1={129} y1={536} x2={206} y2={536} stroke={GRAY} strokeWidth={5} />
        <text x={214} y={543} fontSize={21} {...txt}>fit fixed parameters</text>

        {/* legend F */}
        <line x1={1047} y1={508} x2={1124} y2={508} stroke={YELLOW} strokeWidth={1.3} />
        <text x={1131} y={515} fontSize={21} {...txt}>data</text>
        <line x1={1047} y1={536} x2={1124} y2={536} stroke={GRAY} strokeWidth={2.2} />
        <text x={1131} y={543} fontSize={21} {...txt}>fits</text>
        <line x1={1047} y1={563} x2={1124} y2={563} stroke={MEANY} strokeWidth={8} />
        <text x={1131} y={570} fontSize={21} {...txt}>mean data</text>
        <line x1={1047} y1={591} x2={1124} y2={591} stroke={DARK} strokeWidth={5} />
        <text x={1131} y={598} fontSize={21} {...txt}>mean fit</text>

        {[313, 770, 1229].map((cx) => (
          <text key={cx} x={cx} y={1279} textAnchor="middle" fontSize={23} {...txt}>time [sec]</text>
        ))}
      </svg>
    </div>
  );
}
